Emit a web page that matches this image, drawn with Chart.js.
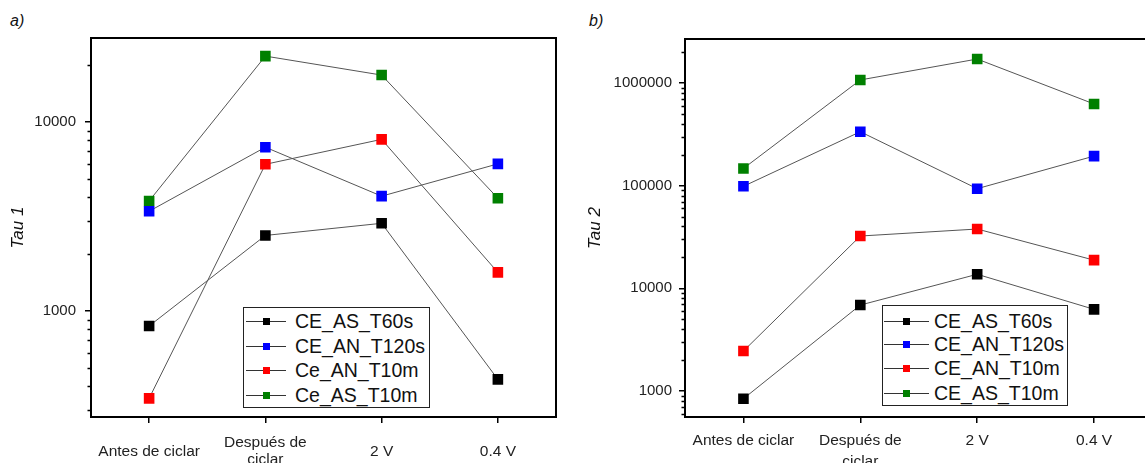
<!DOCTYPE html>
<html>
<head>
<meta charset="utf-8">
<script src="https://cdn.jsdelivr.net/npm/chart.js@4/dist/chart.umd.min.js"></script>
<style>
  body { margin: 0; width: 1145px; height: 463px; overflow: hidden; background: #fff; font-family: "Liberation Sans", Arial, sans-serif; position: relative; }
  canvas { position: absolute; top: 0; }
  #c1 { left: 0; }
  #c2 { left: 580px; }
  .tag { position: absolute; font-style: italic; font-size: 16px; color: #111; }
  .legend { position: absolute; border: 1px solid #222; background: #fff; }
  .legend .row { position: absolute; left: 0; height: 24px; width: 100%; }
  .legend .ln { position: absolute; height: 1px; background: #333; }
  .legend .mk { position: absolute; width: 7px; height: 7px; }
  .legend .tx { position: absolute; font-size: 19.5px; color: #111; white-space: nowrap; line-height: 24px; }
</style>
</head>
<body>
<div class="tag" style="left:10px;top:12px;">a)</div>
<div class="tag" style="left:589px;top:12px;">b)</div>
<canvas id="c1" width="570" height="463"></canvas>
<canvas id="c2" width="580" height="463"></canvas>
<div id="leg1" class="legend" style="left:243px;top:307px;width:185px;height:99px;"></div>
<div id="leg2" class="legend" style="left:882px;top:305px;width:184px;height:99px;"></div>
<script>
// categories
var labels = ['Antes de ciclar', ['Después de', 'ciclar'], '2 V', '0.4 V'];

// Tau 1 (panel a)
var tau1_AS_T60s  = [833, 2510, 2910, 435];
var tau1_AN_T120s = [3370, 7350, 4050, 6000];
var tau1_AN_T10m  = [345, 5970, 8090, 1600];
var tau1_AS_T10m  = [3820, 22300, 17700, 3950];
var names1 = ['CE_AS_T60s', 'CE_AN_T120s', 'Ce_AN_T10m', 'Ce_AS_T10m'];

// Tau 2 (panel b)
var tau2_AS_T60s  = [841, 6870, 13700, 6240];
var tau2_AN_T120s = [98500, 335000, 93400, 194000];
var tau2_AN_T10m  = [2450, 32300, 37800, 18800];
var tau2_AS_T10m  = [147000, 1070000, 1710000, 624000];
var names2 = ['CE_AS_T60s', 'CE_AN_T120s', 'CE_AN_T10m', 'CE_AS_T10m'];

var colors = ['#000000', '#0000ff', '#ff0000', '#008000'];

// y tick labels
var majors1 = [1000, 10000];
var majors2 = [1000, 10000, 100000, 1000000];

// box around plot + short minor ticks
var framePlugin = {
    id: 'frame',
    afterDraw: function(chart) {
        var ctx = chart.ctx;
        var a = chart.chartArea;
        var y = chart.scales.y;
        ctx.save();
        ctx.strokeStyle = '#000';
        ctx.lineWidth = 1.5;
        ctx.beginPath();
        for (var e = 0; e < 8; e++) {
            for (var k = 2; k <= 9; k++) {
                var v = k * Math.pow(10, e);
                if (v < y.min || v > y.max) continue;
                var py = Math.round(y.getPixelForValue(v)) + 0.5;
                ctx.moveTo(a.left - 3.5, py);
                ctx.lineTo(a.left, py);
            }
        }
        ctx.stroke();
        ctx.lineWidth = 2;
        ctx.strokeRect(a.left, a.top, a.right - a.left, a.bottom - a.top);
        ctx.restore();
    }
};

function makeChart(id, names, series, majors, ymin, ymax, yw, padTop, padRight, title, titlePad, xo) {
    var datasets = [];
    for (var i = 0; i < series.length; i++) {
        datasets.push({
            label: names[i],
            data: series[i],
            borderColor: '#555',
            borderWidth: 1,
            backgroundColor: colors[i],
            pointBackgroundColor: colors[i],
            pointBorderColor: colors[i],
            pointBorderWidth: 0,
            pointStyle: 'rect',
            pointRadius: 7.5,
            tension: 0
        });
    }
    return new Chart(document.getElementById(id), {
        type: 'line',
        data: { labels: labels, datasets: datasets },
        plugins: [framePlugin],
        options: {
            responsive: false,
            animation: false,
            layout: { padding: { top: padTop, right: padRight, left: 0, bottom: 0 } },
            plugins: { legend: { display: false }, tooltip: { enabled: false } },
            scales: {
                x: {
                    type: 'category',
                    offset: true,
                    afterFit: function(s) { s.height = 46; },
                    border: { display: false },
                    grid: { drawOnChartArea: false, tickLength: 6, color: '#000', lineWidth: 1.5, offset: false },
                    ticks: {
                        color: '#222', padding: xo.pad, maxRotation: 0, autoSkip: false,
                        crossAlign: xo.align,
                        font: { family: 'Liberation Sans', size: 15.5, lineHeight: xo.lh }
                    }
                },
                y: {
                    type: 'logarithmic',
                    min: ymin,
                    max: ymax,
                    afterFit: function(s) { s.width = yw; },
                    afterBuildTicks: function(s) {
                        s.ticks = majors.map(function(v) { return { value: v, major: true }; });
                    },
                    border: { display: false },
                    grid: { drawOnChartArea: false, tickLength: 6, color: '#000', lineWidth: 1.5 },
                    ticks: {
                        color: '#222', padding: xo.ypad,
                        font: { family: 'Liberation Sans', size: 15 },
                        callback: function(v) { return String(v); }
                    },
                    title: {
                        display: true, text: title, color: '#111',
                        padding: { top: titlePad, bottom: 0 },
                        font: { family: 'Liberation Sans', size: 17, style: 'italic' }
                    }
                }
            }
        }
    });
}

makeChart('c1', names1, [tau1_AS_T60s, tau1_AN_T120s, tau1_AN_T10m, tau1_AS_T10m],
          majors1, 275, 27800, 91, 38, 14, 'Tau 1', 8,
          { pad: 20, align: 'center', lh: 1.1, ypad: 9 });
makeChart('c2', names2, [tau2_AS_T60s, tau2_AN_T120s, tau2_AN_T10m, tau2_AS_T10m],
          majors2, 558, 2680000, 105, 39, 5, 'Tau 2', 5,
          { pad: 8, align: 'near', lh: 1.3, ypad: 7 });

function buildLegend(id, names, rowTops, lineL, lineW, textL) {
    var box = document.getElementById(id);
    for (var i = 0; i < names.length; i++) {
        var row = document.createElement('div');
        row.className = 'row';
        row.style.top = rowTops[i] + 'px';
        var ln = document.createElement('div');
        ln.className = 'ln';
        ln.style.left = lineL + 'px';
        ln.style.width = lineW + 'px';
        ln.style.top = '12px';
        var mk = document.createElement('div');
        mk.className = 'mk';
        mk.style.background = colors[i];
        mk.style.left = (lineL + lineW / 2 - 3.5) + 'px';
        mk.style.top = '9px';
        var tx = document.createElement('div');
        tx.className = 'tx';
        tx.style.left = textL + 'px';
        tx.style.top = '0px';
        tx.textContent = names[i];
        row.appendChild(ln);
        row.appendChild(mk);
        row.appendChild(tx);
        box.appendChild(row);
    }
}
buildLegend('leg1', names1, [1, 26, 50, 75], 2, 40, 51);
buildLegend('leg2', names2, [3, 26, 50, 75], 1, 45, 51);
</script>
</body>
</html>
